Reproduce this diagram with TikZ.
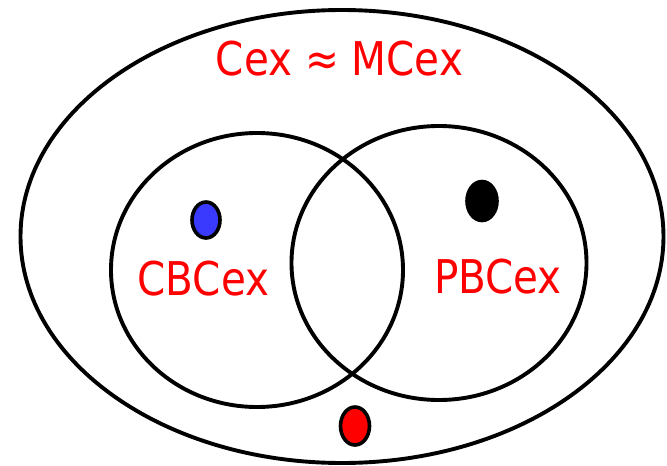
\documentclass[tikz,border=0pt]{standalone}
\usepackage{fontspec}
\setmainfont[FakeStretch=0.87]{DejaVu Sans}
\definecolor{dotblue}{RGB}{58,58,255}
\begin{document}
\begin{tikzpicture}[x=1pt,y=-1pt,
  ring/.style={draw=black,line width=3.9pt},
  dot/.style={draw=black,line width=3.6pt},
  lbl/.style={text=red,font=\fontsize{46.5}{50}\selectfont,anchor=base,inner sep=0pt}]
\useasboundingbox (0,0) rectangle (667,466);
% outer set
\draw[ring] (342,236.5) ellipse [x radius=321.5, y radius=226.5];
% two inner sets
\draw[ring] (257,270) ellipse [x radius=146, y radius=137];
\draw[ring] (439,263) ellipse [x radius=147.5, y radius=137];
% points
\filldraw[dot,fill=dotblue] (206,220) ellipse [x radius=14, y radius=18];
\filldraw[dot,fill=black] (482,201) ellipse [x radius=15, y radius=19.5];
\filldraw[dot,fill=red] (355,426) ellipse [x radius=14.5, y radius=19];
% labels
\node[lbl] (top) at (339.5,75) {Cex ≈ MCex};
\node[lbl] (cb) at (203.5,295) {CBCex};
\node[lbl] (pb) at (498,293) {PBCex};
\end{tikzpicture}
\end{document}
